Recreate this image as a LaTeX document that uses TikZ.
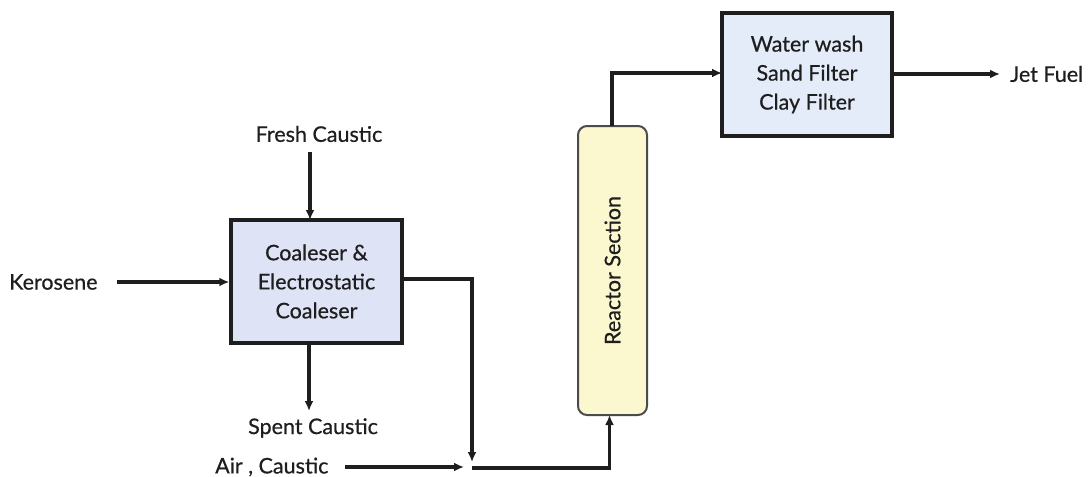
\documentclass[tikz,border=0pt]{standalone}
\usepackage{fontspec}
\setmainfont{Lato}
\newfontfamily\lblfont{Lato}[FakeBold=0.6]
\usetikzlibrary{arrows.meta,calc}
\definecolor{coalfill}{HTML}{DFE3F6}
\definecolor{washfill}{HTML}{E4ECF9}
\definecolor{reacfill}{HTML}{FBF8CF}
\definecolor{ink}{HTML}{1E1E1E}
\begin{document}
\begin{tikzpicture}[x=1pt,y=-1pt,
  lbl/.style={font=\lblfont\fontsize{21.5}{29}\selectfont,text=ink,inner sep=0pt},
  boxA/.style={draw=ink,line width=3.4pt,fill=coalfill,minimum width=171pt,minimum height=123pt,align=center,font=\lblfont\fontsize{21.5}{29}\selectfont,text=ink,inner sep=0pt},
  boxB/.style={boxA,fill=washfill,minimum width=170pt},
  reac/.style={draw=ink!80,line width=2pt,fill=reacfill,rounded corners=9pt,minimum width=69pt,minimum height=289pt,inner sep=0pt},
  flow/.style={draw=ink,line width=3.3pt,-{Latex[length=10pt,width=9pt]}}]
\useasboundingbox (0,0) rectangle (1088,477);
% blocks
\node[boxA] (coal) at (316.5,281.5) {Coaleser \&\\Electrostatic\\Coaleser};
\node[boxB] (wash) at (807,74.5) {Water wash\\Sand Filter\\Clay Filter};
\node[reac] (reac) at (612.5,270.5) {};
\node[lbl,rotate=90] (reactxt) at (612.5,270.5) {Reactor Section};
% labels
\node[lbl] (fresh) at (319,134) {Fresh Caustic};
\node[lbl,anchor=west] (kero) at (9,282) {Kerosene};
\node[lbl] (spent) at (313,428) {Spent Caustic};
\node[lbl,anchor=west] (air) at (215,467) {Air , Caustic};
\node[lbl,anchor=west] (jet) at (1010,74) {Jet Fuel};
% coordinates
\coordinate (fcS) at (310,152);
\coordinate (fcE) at (310,220);
\coordinate (kS) at (117,282);
\coordinate (scS) at (309,343);
\coordinate (scE) at (309,411);
\coordinate (cOut) at (402,279);
\coordinate (cDrop) at (472,279);
\coordinate (cEnd) at (472,462);
\coordinate (aS) at (345,467);
\coordinate (aE) at (464,467);
\coordinate (jn) at (472,468);
\coordinate (rIn) at (609.5,468);
\coordinate (rInE) at (609.5,415);
\coordinate (rOut) at (612,126);
\coordinate (rUp) at (612,73);
\coordinate (wIn) at (722,73);
\coordinate (wOut) at (892,74);
\coordinate (jE) at (1000,74);
% connectors
\draw[flow] (fcS) -- (fcE);
\draw[flow] (kS) -- (coal.west |- kS);
\draw[flow] (scS) -- (scE);
\draw[flow] (cOut) -- (cDrop) -- (cEnd);
\draw[flow] (aS) -- (aE);
\draw[flow] (jn) -- (rIn) -- (rInE);
\draw[flow] (rOut) -- (rUp) -- (wIn);
\draw[flow] (wOut) -- (jE);
\end{tikzpicture}
\end{document}
